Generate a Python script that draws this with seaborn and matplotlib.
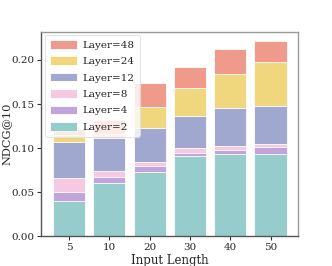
import matplotlib
matplotlib.use("Agg")
import matplotlib.pyplot as plt
import seaborn as sns
import pandas as pd

lengths = ["5", "10", "20", "30", "40", "50"]
# cumulative NDCG@10 (top of each stacked segment)
layer2 = [0.0404, 0.0608, 0.0733, 0.0911, 0.0934, 0.0937]
layer4 = [0.0506, 0.0673, 0.0797, 0.0941, 0.0979, 0.1013]
layer8 = [0.0665, 0.0741, 0.0846, 0.0998, 0.1024, 0.1044]
layer12 = [0.1073, 0.1112, 0.1232, 0.1368, 0.1455, 0.1478]
layer24 = [0.1149, 0.1160, 0.1470, 0.1684, 0.1845, 0.1980]
layer48 = [0.1220, 0.1320, 0.1736, 0.1917, 0.2125, 0.2212]

series = [
    ("Layer=48", layer48, "#F09A8C"),
    ("Layer=24", layer24, "#F0D67C"),
    ("Layer=12", layer12, "#A0A8D0"),
    ("Layer=8", layer8, "#F6C9E3"),
    ("Layer=4", layer4, "#C2A4DC"),
    ("Layer=2", layer2, "#96CCCB"),
]

sns.set_style("white")
plt.rcParams["font.family"] = ["DejaVu Serif"]

fig = plt.figure(figsize=(3.32, 2.66), dpi=100)
ax = fig.add_axes([41.3 / 332, 1 - 236.3 / 266, (298.3 - 41.3) / 332, (236.3 - 31.7) / 266])

for name, vals, col in series:
    df = pd.DataFrame({"Input Length": lengths, "NDCG@10": vals})
    sns.barplot(data=df, x="Input Length", y="NDCG@10", color=col, ax=ax,
                label=name, width=0.8, saturation=1, edgecolor="white",
                linewidth=0.6, errorbar=None)

ax.set_ylim(0, 0.232)
ax.set_xlim(-0.69, 5.69)
ax.set_yticks([0.0, 0.05, 0.10, 0.15, 0.20])
ax.set_yticklabels(["0.00", "0.05", "0.10", "0.15", "0.20"])
ax.tick_params(axis="both", labelsize=7.5, length=3, width=0.8, color="#333333",
               left=True, bottom=True, pad=2)
ax.set_xlabel("Input Length", fontsize=8.5, labelpad=1)
ax.set_ylabel("NDCG@10", fontsize=8.2)
ax.yaxis.set_label_coords(-0.115, 0.5)
for s in ax.spines.values():
    s.set_color("#999999")
    s.set_linewidth(1.0)
ax.spines["left"].set_color("#555555")
ax.spines["bottom"].set_color("#555555")

leg = ax.legend(loc="upper left", fontsize=7.5, frameon=True, borderpad=0.45,
                labelspacing=0.62, handlelength=2.6, handleheight=0.9,
                handletextpad=0.6, borderaxespad=0.35)
leg.get_frame().set_edgecolor("#dddddd")
leg.get_frame().set_linewidth(0.8)

fig.savefig("out.png", dpi=100)
